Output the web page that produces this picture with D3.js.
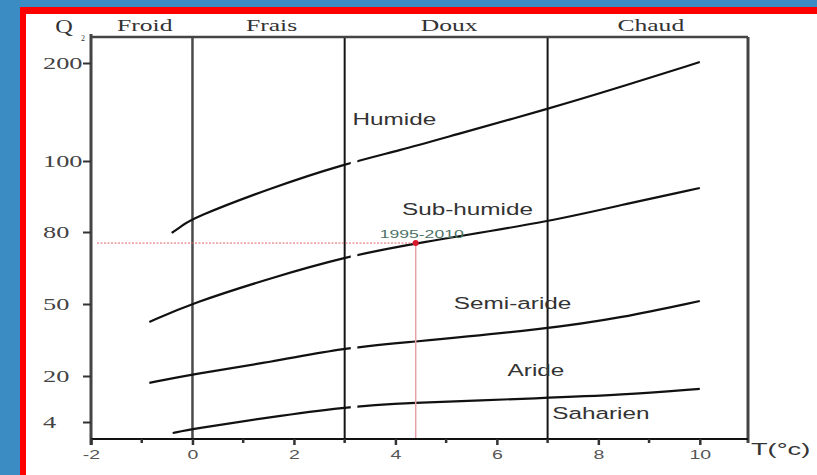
<!DOCTYPE html>
<html>
<head>
<meta charset="utf-8">
<script src="https://cdn.jsdelivr.net/npm/d3@7"></script>
<style>
  html, body { margin: 0; padding: 0; background: #3a8cc3; overflow: hidden; }
  svg { display: block; overflow: hidden; }
</style>
</head>
<body>
<svg id="chart" width="817" height="475"></svg>
<script>
// Emberger climagram: pluviothermic quotient Q2 against T (°c)

// Axis ticks
const qTicks = [4, 20, 50, 80, 100, 200];
const tMajorTicks = [-2, 0, 2, 4, 6, 8, 10];
const tMinorTicks = [-1, 1, 3, 5, 7, 9];

// Thermal variants (winter) along the T axis
const thermalNames = ["Froid", "Frais", "Doux", "Chaud"];
const thermalStart = [-2, 0, 3, 7];
const thermalEnd = [0, 3, 7, 10.95];
const thermalSeparators = [0, 3, 7];

// Boundaries between bioclimatic stages (T, Q2)
const humideLimitT = [-0.41, -0.24, 0, 1.54, 3, 4.1, 5.09, 7, 8.44, 10];
const humideLimitQ = [79.6, 81.4, 83.9, 92.4, 99.2, 111, 125.5, 153, 175.5, 201];

const subHumideLimitT = [-0.85, 0, 1.54, 3, 4.4, 7, 8.44, 10];
const subHumideLimitQ = [42.5, 50.4, 60.8, 69.6, 75.4, 82.8, 87.6, 92.4];

const semiArideLimitT = [-0.85, 0, 1.54, 3, 4.1, 7, 8.44, 10];
const semiArideLimitQ = [17.6, 20.8, 25.8, 31.7, 33.75, 39.6, 44.2, 51.25];

const arideLimitT = [-0.39, 0, 1.54, 3, 4.1, 7, 8.44, 10];
const arideLimitQ = [0.17, 1.57, 5.74, 9.2, 10.6, 12.35, 13.4, 15.5];

// Bioclimatic stage names and where they sit (T, Q2)
const stageNames = ["Humide", "Sub-humide", "Semi-aride", "Aride", "Saharien"];
const stageT = [3.98, 5.42, 6.31, 6.77, 8.05];
const stageQ = [142.9, 86.5, 50.4, 22.5, 7.1];

// Station for the period 1995-2010
const stationT = [4.4];
const stationQ = [75.4];
const stationLabel = ["1995-2010"];

// ---------------------------------------------------------------------------
const svg = d3.select("#chart");
const W = 817, H = 475;
const plotTop = 37, plotBottom = 439;

const x = d3.scaleLinear().domain([-2, 10.95]).range([91, 748]);
// Q2 axis is drawn piecewise: equal steps between the middle ticks
const y = d3.scaleLinear().domain(qTicks).range([422, 376, 304, 232, 161, 63]);

const serif = "'Liberation Serif', 'Times New Roman', serif";
const sans = "'Liberation Sans', Arial, sans-serif";

// Slide background and frame
svg.append("rect").attr("width", W).attr("height", H).attr("fill", "#3a8cc3");
svg.append("rect").attr("x", 20).attr("y", 7).attr("width", W + 40).attr("height", H + 40).attr("fill", "#ff0000");
svg.append("rect").attr("x", 26).attr("y", 14).attr("width", W + 40).attr("height", H + 40).attr("fill", "#ffffff");

const xL = x.range()[0], xR = x.range()[1];

// Horizontally stretched text helper
function stretched(g, txt, px, py, sx, opts) {
  return g.append("text")
    .attr("transform", `translate(${px},${py}) scale(${sx},1)`)
    .attr("text-anchor", opts.anchor || "middle")
    .attr("font-family", opts.family)
    .attr("font-size", opts.size)
    .attr("fill", opts.fill || "#333")
    .text(txt);
}

// Thermal separators
svg.append("g").selectAll("line").data(thermalSeparators).join("line")
  .attr("x1", d => x(d)).attr("x2", d => x(d))
  .attr("y1", plotTop).attr("y2", plotBottom)
  .attr("stroke", (d, i) => i === 0 ? "#4a4a4a" : "#151515")
  .attr("stroke-width", (d, i) => i === 0 ? 2.5 : 2);

// Stage boundaries
const boundaries = [
  [humideLimitT, humideLimitQ],
  [subHumideLimitT, subHumideLimitQ],
  [semiArideLimitT, semiArideLimitQ],
  [arideLimitT, arideLimitQ]
].map(([ts, qs]) => ts.map((t, i) => [t, qs[i]]));

const line = d3.line()
  .x(d => x(d[0])).y(d => y(d[1]))
  .curve(d3.curveBasis);

svg.append("g").selectAll("path").data(boundaries).join("path")
  .attr("d", line)
  .attr("fill", "none")
  .attr("stroke", "#111")
  .attr("stroke-width", 2.2);

// Small breaks in the boundaries just right of the T = 3 separator
svg.append("clipPath").attr("id", "breakClip")
  .append("rect")
  .attr("x", x(3.12)).attr("width", x(3.25) - x(3.12))
  .attr("y", plotTop).attr("height", plotBottom - plotTop);
svg.append("g").attr("clip-path", "url(#breakClip)")
  .selectAll("path").data(boundaries).join("path")
  .attr("d", line)
  .attr("fill", "none")
  .attr("stroke", "#fff")
  .attr("stroke-width", 5);

// Station reference lines and point
const sx = x(stationT[0]), sy = y(stationQ[0]);
svg.append("line")
  .attr("x1", xL + 6).attr("x2", sx).attr("y1", sy).attr("y2", sy)
  .attr("stroke", "#e0606e").attr("stroke-width", 1)
  .attr("stroke-dasharray", "2,1.5");
svg.append("line")
  .attr("x1", sx).attr("x2", sx).attr("y1", sy).attr("y2", plotBottom)
  .attr("stroke", "#e8a0a8").attr("stroke-width", 1.5);
svg.append("circle")
  .attr("cx", sx).attr("cy", sy).attr("r", 3)
  .attr("fill", "#d9182b");
stretched(svg, stationLabel[0], sx + 6, sy - 5, 1.6,
  { family: sans, size: 11, fill: "#4d7366" });

// Frame: left axis, bottom axis, top and right borders
const frame = svg.append("g").attr("fill", "none");
frame.append("line").attr("x1", xL).attr("x2", xL).attr("y1", plotTop - 3).attr("y2", plotBottom + 6)
  .attr("stroke", "#444").attr("stroke-width", 3);
frame.append("line").attr("x1", xL).attr("x2", xR).attr("y1", plotTop).attr("y2", plotTop)
  .attr("stroke", "#444").attr("stroke-width", 2.5);
frame.append("line").attr("x1", xR).attr("x2", xR).attr("y1", plotTop).attr("y2", plotBottom + 4)
  .attr("stroke", "#444").attr("stroke-width", 3);
frame.append("line").attr("x1", xL).attr("x2", xR).attr("y1", plotBottom).attr("y2", plotBottom)
  .attr("stroke", "#111").attr("stroke-width", 2);

// X axis ticks
const xAxis = svg.append("g").attr("transform", `translate(0,${plotBottom})`)
  .call(d3.axisBottom(x).tickValues(tMajorTicks).tickSize(6).tickFormat(d => String(d)));
xAxis.select(".domain").remove();
xAxis.selectAll(".tick line").attr("stroke", "#333").attr("stroke-width", 2.5);
xAxis.selectAll(".tick text")
  .attr("font-family", sans).attr("font-size", 13).attr("fill", "#555")
  .attr("y", 11).attr("transform", "scale(1.5,1)");

svg.append("g").selectAll("line").data(tMinorTicks).join("line")
  .attr("x1", d => x(d)).attr("x2", d => x(d))
  .attr("y1", plotBottom).attr("y2", plotBottom + 4)
  .attr("stroke", "#333").attr("stroke-width", 2.5);

// Y axis ticks and labels
const yAxis = svg.append("g").attr("transform", `translate(${xL},0)`)
  .call(d3.axisLeft(y).tickValues(qTicks).tickSize(8).tickFormat(() => ""));
yAxis.select(".domain").remove();
yAxis.selectAll(".tick line").attr("stroke", "#333").attr("stroke-width", 2);

const yLabels = svg.append("g");
qTicks.forEach(q => {
  stretched(yLabels, String(q), 43, y(q) + 6, 1.55,
    { family: serif, size: 17, fill: "#444", anchor: "start" });
});

// Axis titles
stretched(svg, "Q", 64, 33, 1.35, { family: serif, size: 18, fill: "#333" });
stretched(svg, "2", 83, 41, 1, { family: serif, size: 8, fill: "#333" });
stretched(svg, "T(°c)", 751, 455, 1.6, { family: sans, size: 17, fill: "#333", anchor: "start" });

// Thermal variant names above the frame
thermalNames.forEach((name, i) => {
  const cx = x((thermalStart[i] + thermalEnd[i]) / 2) + 3;
  stretched(svg, name, cx, 31, 1.6, { family: serif, size: 16, fill: "#333" });
});

// Bioclimatic stage names
stageNames.forEach((name, i) => {
  stretched(svg, name, x(stageT[i]), y(stageQ[i]) + 6, 1.43,
    { family: sans, size: 17, fill: "#333" });
});
</script>
</body>
</html>
